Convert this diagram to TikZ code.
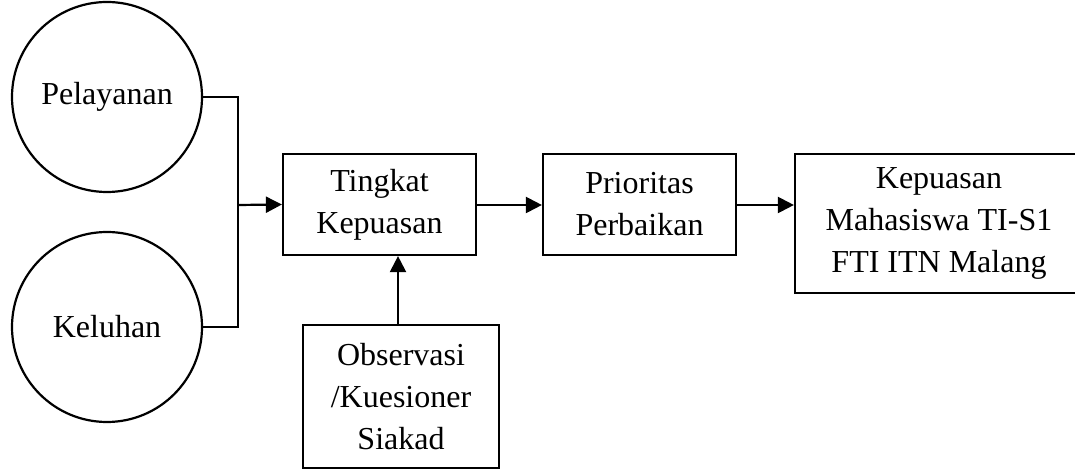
\documentclass[tikz,border=0pt]{standalone}
\usepackage{fontspec}
\setmainfont{Liberation Serif}
\usetikzlibrary{arrows.meta}

\begin{document}
\begin{tikzpicture}[x=0.5pt,y=-0.5pt,line width=1.1pt,
    every node/.style={font=\fontsize{16}{21}\selectfont,align=center},
    circnode/.style={draw,circle,minimum size=95pt,inner sep=0pt},
    boxnode/.style={draw,rectangle,inner sep=0pt},
    flow/.style={-{Triangle[length=8pt,width=8pt]}}]
        \clip (0,0) rectangle (1075,469);
        % inputs
        \node[circnode] (pel) at (107,97) {Pelayanan};
        \node[circnode] (kel) at (107,327) {Keluhan};
        \coordinate (jtop) at (238,97);
        \coordinate (jbot) at (238,327);
        \coordinate (jmid) at (238,205);
        % process boxes
        \node[boxnode,minimum width=96.5pt,minimum height=50.5pt] (tk) at (379.5,204.5) {Tingkat\\Kepuasan};
        \node[boxnode,minimum width=96.5pt,minimum height=50.5pt] (pr) at (639.5,204.5) {Prioritas\\Perbaikan};
        \node[boxnode,minimum width=144pt,minimum height=69.5pt] (kp) at (939,223.5) {Kepuasan\\Mahasiswa TI-S1\\FTI ITN Malang};
        \node[boxnode,minimum width=98pt,minimum height=71.5pt] (obs) at (401,396.5) {Observasi\\/Kuesioner\\Siakad};
        % connectors
        \draw (pel.east) -- (jtop) -- (jbot) -- (kel.east);
        \draw[flow] (jmid) -- (tk.west);
        \draw[flow] (tk.east |- jmid) -- (pr.west |- jmid);
        \draw[flow] (pr.east |- jmid) -- (kp.west |- jmid);
        \draw[flow] ([xshift=-1.5pt]obs.north) -- ([xshift=-1.5pt]obs.north |- tk.south);
\end{tikzpicture}
\end{document}
